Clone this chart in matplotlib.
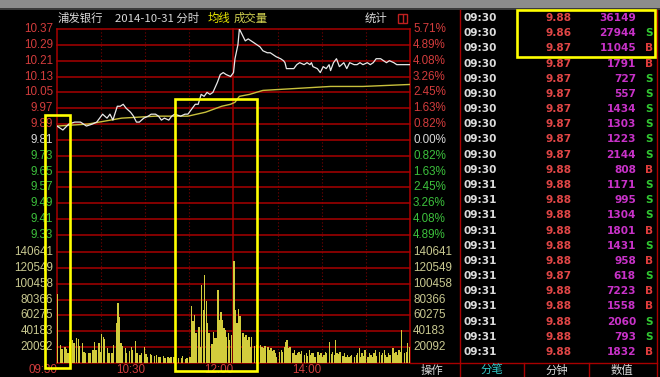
import matplotlib
matplotlib.use("Agg")
import matplotlib.pyplot as plt
from matplotlib.patches import Rectangle
from matplotlib.transforms import blended_transform_factory as blend

# ---------------- data ----------------
stock_name = "浦发银行"
trade_date = "2014-10-31"
prev_close = 9.81

price_ticks = [10.37, 10.29, 10.21, 10.13, 10.05, 9.97, 9.89, 9.81,
               9.73, 9.65, 9.57, 9.49, 9.41, 9.33]
pct_labels = ["5.71%", "4.89%", "4.08%", "3.26%", "2.45%", "1.63%", "0.82%",
              "0.00%", "0.82%", "1.63%", "2.45%", "3.26%", "4.08%", "4.89%"]
vol_ticks = [140641, 120549, 100458, 80366, 60275, 40183, 20092]

time_grid = [0, 30, 60, 90, 120, 150, 180, 210, 240]
time_labels = ["09:30", "10:30", "12:00", "14:00"]
time_label_pos = [0, 60, 120, 180]

price_minutes = [0, 4, 8, 12, 16, 20, 24, 27, 29, 31, 34, 36, 38, 41, 43, 45, 47, 50,
                 52, 54, 56, 59, 62, 64, 67, 69, 71, 73, 76, 78, 80, 84, 87, 89, 90,
                 92, 94, 96, 98, 100, 102, 104, 106, 109, 111, 113, 115, 118, 120,
                 121, 123, 124, 126, 128, 130, 132, 134, 136, 138, 140, 143, 145,
                 147, 149, 152, 154, 155, 156, 158, 161, 163, 165, 168, 170, 172,
                 173, 174, 177, 179, 181, 183, 185, 186, 188, 190, 192, 195, 197,
                 199, 202, 204, 206, 208, 211, 213, 215, 217, 220, 222, 224, 226,
                 229, 231, 234, 240]
price_values = [9.88, 9.86, 9.89, 9.90, 9.90, 9.88, 9.89, 9.90, 9.92, 9.94, 9.92, 9.94,
                9.91, 9.98, 9.98, 9.99, 9.97, 9.95, 9.93, 9.90, 9.90, 9.92, 9.93, 9.94,
                9.94, 9.93, 9.91, 9.92, 9.91, 9.93, 9.94, 9.93, 9.94, 9.94, 9.95, 9.97,
                9.99, 9.99, 10.04, 10.03, 10.05, 10.04, 10.05, 10.10, 10.14, 10.15,
                10.14, 10.13, 10.15, 10.22, 10.29, 10.37, 10.34, 10.31, 10.32, 10.31,
                10.30, 10.29, 10.28, 10.26, 10.25, 10.25, 10.24, 10.23, 10.22, 10.21,
                10.20, 10.17, 10.17, 10.17, 10.19, 10.20, 10.19, 10.20, 10.19, 10.20,
                10.18, 10.17, 10.15, 10.18, 10.17, 10.19, 10.16, 10.20, 10.22, 10.18,
                10.20, 10.17, 10.20, 10.19, 10.19, 10.20, 10.19, 10.20, 10.19, 10.20,
                10.22, 10.22, 10.21, 10.20, 10.21, 10.20, 10.19, 10.19, 10.19]

avg_minutes = [0, 21, 44, 67, 89, 101, 112, 118, 121, 124, 131, 140, 163, 186, 208, 240]
avg_values = [9.88, 9.89, 9.92, 9.93, 9.93, 9.95, 9.98, 9.99, 10.00, 10.03, 10.04,
              10.06, 10.07, 10.08, 10.08, 10.09]

vol_minutes = [0, 2, 3, 5, 6, 7, 8, 10, 11, 13, 14, 15, 17, 18, 19, 21, 22, 24, 25, 26,
               28, 29, 30, 31, 32, 34, 35, 37, 38, 40, 41, 42, 43, 44, 46, 47, 49, 50,
               51, 53, 54, 56, 57, 59, 60, 61, 63, 64, 66, 67, 69, 70, 72, 73, 75, 76,
               77, 79, 80, 82, 84, 85, 87, 88, 90, 91, 92, 93, 94, 96, 97, 98, 99, 100,
               101, 102, 103, 105, 106, 107, 108, 109, 110, 111, 112, 113, 114, 115,
               116, 117, 118, 120, 121, 122, 123, 124, 126, 127, 128, 129, 130, 131,
               132, 134, 135, 136, 138, 139, 140, 141, 143, 144, 145, 146, 147, 148,
               149, 151, 152, 153, 154, 155, 156, 157, 158, 160, 161, 162, 163, 164,
               165, 166, 168, 169, 170, 171, 172, 173, 174, 175, 177, 178, 179, 180,
               181, 182, 183, 185, 186, 187, 188, 189, 190, 191, 192, 194, 195, 196,
               197, 198, 199, 200, 202, 203, 204, 205, 206, 207, 208, 209, 211, 212,
               213, 214, 215, 216, 217, 219, 220, 221, 222, 223, 224, 225, 226, 228,
               229, 230, 231, 232, 233, 234, 236, 237, 238, 239]
vol_values = [87300, 22900, 17400, 19900, 17800, 12300, 27100, 29200, 25000, 32200,
              30100, 21600, 25000, 14400, 12300, 13100, 12300, 16500, 26300, 16500,
              25900, 14400, 36500, 33500, 30900, 18700, 12300, 13100, 22900, 50400,
              75900, 58100, 25000, 21600, 18700, 13100, 15700, 20800, 16500, 28400,
              13100, 10600, 12300, 19900, 11000, 8100, 11400, 10200, 8900, 10200,
              7200, 8100, 8900, 6400, 8100, 6800, 8100, 7200, 8100, 6800, 5900, 8900,
              4700, 5900, 8100, 71600, 52600, 61000, 37700, 45400, 20800, 99200,
              67400, 111900, 78000, 50400, 37700, 24200, 39800, 31400, 31400, 92800,
              54700, 65000, 54700, 44000, 42000, 33500, 37700, 29200, 35600, 129000,
              67400, 50400, 68200, 59800, 37700, 33500, 35600, 29200, 33500, 20800,
              33500, 21600, 22900, 22900, 22900, 20800, 18700, 21600, 19900, 16500,
              18700, 15700, 16500, 12300, 8100, 14400, 16500, 14400, 20800, 27100,
              29200, 18700, 19900, 12300, 16500, 10200, 12300, 14400, 11400, 15700,
              10200, 12300, 8900, 16500, 10200, 12300, 13100, 8100, 14400, 10200,
              12300, 8100, 10200, 14400, 12300, 27100, 11400, 14400, 10200, 29200,
              12300, 11400, 14400, 8900, 12300, 7200, 10200, 8100, 8900, 10200, 7200,
              10200, 12300, 18700, 8100, 12300, 8900, 16500, 7200, 12300, 10200, 8100,
              12300, 16500, 8900, 14400, 10200, 12300, 16500, 10200, 8100, 13100,
              10200, 18700, 12300, 14400, 10200, 16500, 14400, 42000, 12300, 14400,
              25000, 20800]

tick_times = ["09:30"] * 11 + ["09:31"] * 12
tick_prices = ["9.88", "9.86", "9.87", "9.87", "9.87", "9.87", "9.87", "9.87", "9.87",
               "9.87", "9.88", "9.88", "9.88", "9.88", "9.88", "9.88", "9.88", "9.87",
               "9.88", "9.88", "9.88", "9.88", "9.88"]
tick_vols = ["36149", "27944", "11045", "1791", "727", "557", "1434", "1303", "1223",
             "2144", "808", "1171", "995", "1304", "1801", "1431", "958", "618", "7223",
             "1558", "2060", "793", "1832"]
tick_sides = ["", "S", "B", "B", "S", "S", "S", "S", "S", "S", "B", "S", "S", "S", "B",
              "S", "B", "S", "B", "B", "S", "S", "B"]

tabs = ["分笔", "分钟", "数值"]

# ---------------- style ----------------
W, H = 660, 377
RED_GRID = "#a80000"
RED_TXT = "#d23c3c"
GREEN_TXT = "#3cc03c"
WHITE_TXT = "#d8d8d8"
VOL_TXT = "#c8c890"
YELLOW = "#ffff00"
NUM_FONT = ["Liberation Sans", "DejaVu Sans"]
CJK = ["Noto Sans CJK SC", "DejaVu Sans"]

fig = plt.figure(figsize=(6.6, 3.77), dpi=100, facecolor="black")


def px_axes(x0, y0, x1, y1, z):
    a = fig.add_axes([x0 / W, 1 - y1 / H, (x1 - x0) / W, (y1 - y0) / H], zorder=z)
    a.set_facecolor("none")
    a.axis("off")
    return a


canvas = px_axes(0, 0, W, H, 0)
canvas.set_xlim(0, W)
canvas.set_ylim(H, 0)

CH_L, CH_R = 57, 410
ax_grid = px_axes(CH_L, 29, CH_R, 363, 1)
ax_grid.set_xlim(0, 240)
ax_grid.set_ylim(0, 1)
ax_p = px_axes(CH_L, 29, CH_R, 235, 2)
ax_p.set_xlim(0, 240)
ax_p.set_ylim(9.33, 10.37)
ax_v = px_axes(CH_L, 252, CH_R, 363, 2)
ax_v.set_xlim(0, 240)
ax_v.set_ylim(0, 140641)
over = px_axes(0, 0, W, H, 5)
over.set_xlim(0, W)
over.set_ylim(H, 0)

# title bar
canvas.add_patch(Rectangle((0, 0), W, 8, color="#8c8c8c", lw=0))
canvas.add_patch(Rectangle((0, 8), W, 2, color="#3a3a3a", lw=0))

# horizontal grid
for p in price_ticks:
    ax_p.axhline(p, color=RED_GRID, lw=1.1, clip_on=False)
for v in [0] + vol_ticks:
    ax_v.axhline(v, color=RED_GRID, lw=1.1, clip_on=False)

# vertical grid
for t in time_grid:
    if t in (0, 120, 240):
        ax_grid.axvline(t, color=RED_GRID, lw=1.1, clip_on=False)
    else:
        ax_grid.axvline(t, color="#7a0000", lw=0.8, ls=(0, (1, 2)), clip_on=False)

# price & average lines
ax_p.plot(avg_minutes, avg_values, color="#c8c03c", lw=1.0, zorder=3)
ax_p.plot(price_minutes, price_values, color="#e8e8e8", lw=0.9, zorder=4)

# volume bars
ax_v.bar(vol_minutes, vol_values, width=0.9, align="edge", color="#d2cc3c",
         lw=0, zorder=3)

# left / right axis labels
tp_l = blend(canvas.transData, ax_p.transData)
for p, lab in zip(price_ticks, pct_labels):
    c = RED_TXT if p > prev_close + 1e-9 else (GREEN_TXT if p < prev_close - 1e-9 else WHITE_TXT)
    canvas.text(53, p, f"{p:.2f}", transform=tp_l, ha="right", va="center",
                color=c, fontsize=8.4, family=NUM_FONT)
    canvas.text(413, p, lab, transform=tp_l, ha="left", va="center",
                color=c, fontsize=8.4, family=NUM_FONT)
tv_l = blend(canvas.transData, ax_v.transData)
for v in vol_ticks:
    canvas.text(53, v, str(v), transform=tv_l, ha="right", va="center",
                color=VOL_TXT, fontsize=8.4, family=NUM_FONT)
    canvas.text(413, v, str(v), transform=tv_l, ha="left", va="center",
                color=VOL_TXT, fontsize=8.4, family=NUM_FONT)

# time labels
tt = blend(ax_grid.transData, canvas.transData)
for t, lab in zip(time_label_pos, time_labels):
    canvas.text(t, 370, lab, transform=tt, ha="right", va="center",
                color=RED_TXT, fontsize=8.4, family=NUM_FONT)

# header
canvas.text(58, 18.5, stock_name, color=WHITE_TXT, fontsize=8.2, family=CJK,
            va="center", ha="left")
canvas.text(115, 18.5, trade_date + " 分时", color=WHITE_TXT, fontsize=8.2,
            family=CJK, va="center", ha="left")
canvas.text(208, 18.5, "均线", color="#e6e600", fontsize=8.2, family=CJK,
            va="center", ha="left")
canvas.text(234, 18.5, "成交量", color="#d2d250", fontsize=8.2, family=CJK,
            va="center", ha="left")
canvas.text(365, 18.5, "统计", color=WHITE_TXT, fontsize=8.2, family=CJK,
            va="center", ha="left")
canvas.add_patch(Rectangle((398, 14), 9, 9, fill=False, ec="#c02020", lw=1.0))
canvas.plot([402.5, 402.5], [15, 22], color="#c02020", lw=1.0)

# right panel borders
canvas.plot([460, 460], [10, 377], color=RED_GRID, lw=1.0)
canvas.plot([657, 657], [10, 377], color=RED_GRID, lw=1.0)
canvas.plot([410, 657], [363, 363], color=RED_GRID, lw=1.0)
for xs in (524, 589):
    canvas.plot([xs, xs], [363, 377], color=RED_GRID, lw=1.0)

# right panel rows
row_y0, row_dy = 18, 15.18
PANEL_FONT = ["DejaVu Sans"]
for i, (t, p, v, s) in enumerate(zip(tick_times, tick_prices, tick_vols, tick_sides)):
    y = row_y0 + i * row_dy
    canvas.text(463, y, t, color="#dcdcdc", fontsize=7.6, weight="bold",
                family=PANEL_FONT, ha="left", va="center")
    canvas.text(559, y, p, color="#e04646", fontsize=7.6, weight="bold",
                family=PANEL_FONT, ha="center", va="center")
    canvas.text(636, y, v, color="#c832c8", fontsize=7.6, weight="bold",
                family=PANEL_FONT, ha="right", va="center")
    if s:
        canvas.text(649, y, s, color="#e03c3c" if s == "B" else "#32c832",
                    fontsize=7.6, weight="bold", family=PANEL_FONT,
                    ha="center", va="center")

# bottom tabs
canvas.text(432, 370.5, "操作", color=WHITE_TXT, fontsize=8.2, family=CJK,
            ha="center", va="center")
for cx, lab, col in zip([492, 557, 622], tabs, ["#32c8c8", WHITE_TXT, WHITE_TXT]):
    canvas.text(cx, 370.5, lab, color=col, fontsize=8.2, family=CJK,
                ha="center", va="center")

# yellow highlight boxes
for (x0, y0, x1, y1) in [(44.5, 115, 70, 368), (175, 99, 257, 371), (517, 10, 655, 57)]:
    over.add_patch(Rectangle((x0, y0), x1 - x0, y1 - y0, fill=False, ec=YELLOW,
                             lw=1.9))

fig.savefig("out.png", dpi=100, facecolor="black")
